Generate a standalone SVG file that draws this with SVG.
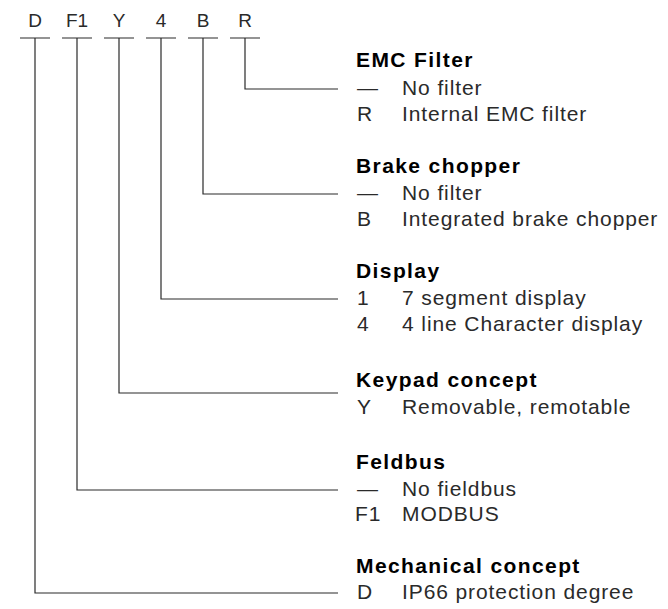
<svg xmlns="http://www.w3.org/2000/svg" width="668" height="609" viewBox="0 0 668 609">
<style>
text{font-family:"Liberation Sans",Arial,Helvetica,sans-serif;}
.code{font-size:19px;fill:#2a2a2a;text-anchor:middle;}
.t{font-size:21px;font-weight:bold;fill:#000;letter-spacing:1.4px;}
.r{font-size:21px;fill:#2a2a2a;letter-spacing:0.9px;}
.ln{stroke:#2a2a2a;stroke-width:1.2;fill:none;}
</style>
<rect width="668" height="609" fill="#fff"/>
<g id="codes">
<text class="code" x="35" y="27">D</text>
<text class="code" x="77" y="27">F1</text>
<text class="code" x="119" y="27">Y</text>
<text class="code" x="161" y="27">4</text>
<text class="code" x="203" y="27">B</text>
<text class="code" x="245" y="27">R</text>
</g>
<g id="connectors" class="ln">
<path d="M20 38H50M62 38H92M104 38H134M146 38H176M188 38H218M230 38H260"/>
<path d="M245 38V89H338"/>
<path d="M203 38V194H338"/>
<path d="M161 38V299H338"/>
<path d="M119 38V393H338"/>
<path d="M77 38V490H338"/>
<path d="M35 38V593H338"/>
</g>
<g id="emc">
<text class="t" x="356" y="67">EMC Filter</text>
<text class="r" x="357" y="95">—</text><text class="r" x="402" y="95">No filter</text>
<text class="r" x="357" y="121">R</text><text class="r" x="402" y="121">Internal EMC filter</text>
</g>
<g id="brake">
<text class="t" x="356" y="173">Brake chopper</text>
<text class="r" x="357" y="200">—</text><text class="r" x="402" y="200">No filter</text>
<text class="r" x="357" y="226">B</text><text class="r" x="402" y="226">Integrated brake chopper</text>
</g>
<g id="display">
<text class="t" x="356" y="278">Display</text>
<text class="r" x="357" y="305">1</text><text class="r" x="402" y="305">7 segment display</text>
<text class="r" x="357" y="331">4</text><text class="r" x="402" y="331">4 line Character display</text>
</g>
<g id="keypad">
<text class="t" x="356" y="387">Keypad concept</text>
<text class="r" x="357" y="414">Y</text><text class="r" x="402" y="414">Removable, remotable</text>
</g>
<g id="feldbus">
<text class="t" x="356" y="469">Feldbus</text>
<text class="r" x="357" y="496">—</text><text class="r" x="402" y="496">No fieldbus</text>
<text class="r" x="355" y="521">F1</text><text class="r" x="402" y="521">MODBUS</text>
</g>
<g id="mechanical">
<text class="t" x="356" y="573">Mechanical concept</text>
<text class="r" x="357" y="599">D</text><text class="r" x="402" y="599">IP66 protection degree</text>
</g>
</svg>
